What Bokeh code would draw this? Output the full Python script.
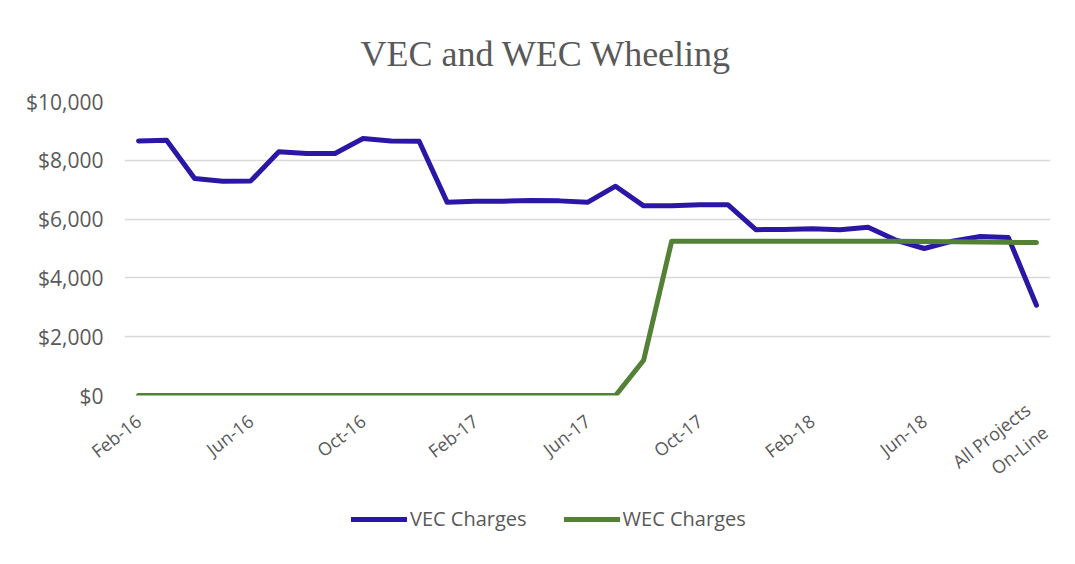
from bokeh.plotting import figure
from bokeh.layouts import column
from bokeh.models import (Range1d, FixedTicker, NumeralTickFormatter, Legend,
                          LegendItem, Title, ColumnDataSource)
from bokeh.embed import file_html
from bokeh.resources import INLINE

# ---- data ----
months = ["Feb-16", "Mar-16", "Apr-16", "May-16", "Jun-16", "Jul-16", "Aug-16",
          "Sep-16", "Oct-16", "Nov-16", "Dec-16",
          "Jan-17", "Feb-17", "Mar-17", "Apr-17", "May-17", "Jun-17", "Jul-17",
          "Aug-17", "Sep-17", "Oct-17", "Nov-17", "Dec-17",
          "Jan-18", "Feb-18", "Mar-18", "Apr-18", "May-18", "Jun-18", "Jul-18",
          "Aug-18", "Sep-18", "All Projects\nOn-Line"]
vec_charges = [8660, 8680, 7380, 7290, 7300, 8290, 8230, 8230, 8740, 8660, 8650,
               6570, 6610, 6610, 6630, 6620, 6570, 7120, 6450, 6450, 6490, 6490,
               5640, 5650, 5670, 5640, 5720, 5280, 5000, 5250, 5410, 5370, 3070]
wec_charges = [0, 0, 0, 0, 0, 0, 0, 0, 0, 0, 0,
               0, 0, 0, 0, 0, 0, 0, 1200, 5250, 5250, 5250,
               5250, 5250, 5250, 5250, 5250, 5250, 5240, 5230, 5220, 5210, 5200]
y_ticks = [0, 2000, 4000, 6000, 8000, 10000]
tick_every = 4
series_names = ["VEC Charges", "WEC Charges"]
series_cols = ["vec", "wec"]
series_colors = ["#2B17A6", "#538135"]

x = list(range(len(months)))
src = ColumnDataSource(dict(x=x, vec=vec_charges, wec=wec_charges))

GRAY = "#595959"
FONT = "Open Sans"
W = 1065

p = figure(width=W, height=530, output_backend="svg", toolbar_location=None,
           x_range=Range1d(-0.5, len(months) - 0.5), y_range=Range1d(0, 10000),
           min_border_left=124, min_border_right=15, min_border_top=101,
           min_border_bottom=135)
p.title = None
p.add_layout(Title(text="VEC and WEC Wheeling", align="left", offset=236,
                   text_font="Liberation Serif", text_font_size="36px",
                   text_font_style="normal", text_color=GRAY, standoff=55), "above")
p.outline_line_color = None
p.background_fill_color = "white"
p.border_fill_color = "white"

# axes
yax = p.yaxis[0]
yax.ticker = FixedTicker(ticks=y_ticks)
yax.formatter = NumeralTickFormatter(format="$0,0")
yax.axis_line_color = None
yax.major_tick_line_color = None
yax.minor_tick_line_color = None
yax.major_label_text_font = FONT
yax.major_label_text_font_size = "21px"
yax.major_label_text_color = GRAY
yax.major_label_standoff = 15

xt = x[::tick_every]
xax = p.xaxis[0]
xax.ticker = FixedTicker(ticks=xt)
xax.major_label_overrides = {i: months[i] for i in xt}
xax.axis_line_color = None
xax.major_tick_line_color = None
xax.minor_tick_line_color = None
xax.major_label_text_font = FONT
xax.major_label_text_font_size = "18px"
xax.major_label_text_color = GRAY
xax.major_label_orientation = 0.66
xax.major_label_standoff = 17

p.xgrid.grid_line_color = None
p.ygrid.grid_line_color = "#d9d9d9"
p.ygrid.grid_line_width = 1.5

for col, color in zip(series_cols, series_colors):
    p.line("x", col, source=src, line_color=color, line_width=5,
           line_cap="round", line_join="round")

# legend strip below the chart (its data lies outside its own view)
H2 = 40
lg = figure(width=W, height=H2, output_backend="svg", toolbar_location=None,
            x_range=Range1d(-1000, -900), y_range=Range1d(-1000, -900),
            x_axis_location=None, y_axis_location=None,
            min_border_left=0, min_border_right=0, min_border_top=0,
            min_border_bottom=0)
lg.grid.visible = False
lg.outline_line_color = None
lg.background_fill_alpha = 0
lg.border_fill_alpha = 0
lg.styles = {"margin-top": "-32px"}
items = []
for name, col, color in zip(series_names, series_cols, series_colors):
    r = lg.line("x", col, source=src, line_color=color, line_width=5,
                line_cap="round")
    items.append(LegendItem(label=name, renderers=[r]))
legend = Legend(items=items, orientation="horizontal", location=(227, 6),
                glyph_width=56, glyph_height=20, label_standoff=3, spacing=37,
                padding=0, margin=0, label_text_font=FONT,
                label_text_font_size="20px", label_text_color=GRAY,
                border_line_color=None, background_fill_alpha=0)
lg.add_layout(legend)

layout = column(p, lg, spacing=0)
open("out.html", "w").write(file_html(layout, INLINE))
